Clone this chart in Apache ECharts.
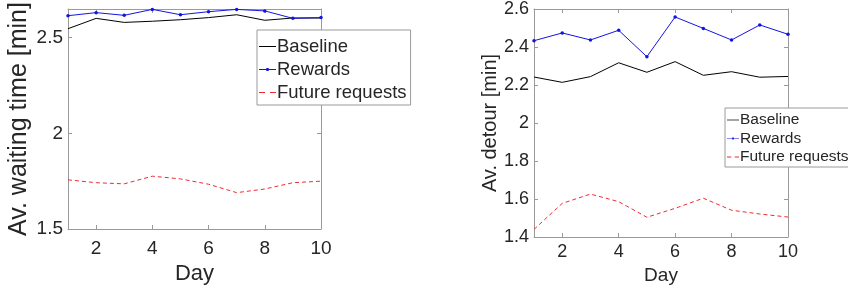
<!DOCTYPE html>
<html>
<head>
<meta charset="utf-8">
<script src="https://cdn.jsdelivr.net/npm/echarts@6/dist/echarts.min.js"></script>
<style>
  html, body { margin: 0; padding: 0; background: #fff; }
  #chart { width: 848px; height: 291px; }
</style>
</head>
<body>
<div id="chart"></div>
<script>
// days on the x axis
const days = [1, 2, 3, 4, 5, 6, 7, 8, 9, 10];
const dayTicks = [2, 4, 6, 8, 10];

// left panel: average waiting time [min]
const waitBaseline = [2.547, 2.601, 2.580, 2.586, 2.594, 2.605, 2.620, 2.591, 2.603, 2.603];
const waitRewards = [2.615, 2.631, 2.617, 2.648, 2.620, 2.636, 2.648, 2.640, 2.601, 2.605];
const waitFuture = [1.757, 1.742, 1.736, 1.776, 1.762, 1.734, 1.690, 1.709, 1.742, 1.750];
const waitTicks = [1.5, 2, 2.5];

// right panel: average detour [min]
const detourBaseline = [2.242, 2.214, 2.244, 2.317, 2.267, 2.323, 2.251, 2.270, 2.241, 2.245];
const detourRewards = [2.433, 2.474, 2.437, 2.488, 2.349, 2.558, 2.498, 2.437, 2.516, 2.467];
const detourFuture = [1.440, 1.577, 1.626, 1.586, 1.504, 1.551, 1.604, 1.541, 1.521, 1.505];
const detourTicks = [1.4, 1.6, 1.8, 2, 2.2, 2.4, 2.6];

const names = ["Baseline", "Rewards", "Future requests"];

const FONT = "Liberation Sans, Helvetica, Arial, sans-serif";
const TEXT = "#262626";
const FRAME = "#9a9a9a";
const BLUE = "#1414e0";
const RED = "#ee2b35";

// legend icons drawn like the matlab ones: plain line, line with a dot, dashes
const ICON_LINE = "path://M0,1 h17 v1 h-17 z";
const ICON_DOT = "path://M0,1 h17 v1 h-17 z M7.3,0 h2.4 v3 h-2.4 z";
const ICON_DASH = "path://M1,1 h5 v1 h-5 z M10,1 h5 v1 h-5 z";

const pairs = (ys) => days.map((d, i) => [d, ys[i]]);

// bottom axis with labels
function mainX(gridIndex, fontSize, margin, nameSize, nameGap) {
    return {
        type: "value", gridIndex, min: 1, max: 10, position: "bottom",
        name: "Day", nameLocation: "middle", nameGap,
        nameTextStyle: { fontFamily: FONT, fontSize: nameSize, color: TEXT },
        axisLine: { show: true, onZero: false, lineStyle: { color: FRAME, width: 1 } },
        axisTick: { show: true, inside: true, length: 4, customValues: dayTicks, lineStyle: { color: FRAME } },
        axisLabel: { customValues: dayTicks, margin, fontFamily: FONT, fontSize, color: TEXT },
        splitLine: { show: false },
    };
}
// top mirror axis for the box
function boxX(gridIndex) {
    return {
        type: "value", gridIndex, min: 1, max: 10, position: "top",
        axisLine: { show: true, onZero: false, lineStyle: { color: FRAME, width: 1 } },
        axisTick: { show: true, inside: true, length: 4, customValues: dayTicks, lineStyle: { color: FRAME } },
        axisLabel: { show: false },
        splitLine: { show: false },
    };
}
function mainY(gridIndex, min, max, ticks, name, fontSize, nameSize, nameGap) {
    return {
        type: "value", gridIndex, min, max, position: "left",
        name, nameLocation: "middle", nameGap,
        nameTextStyle: { fontFamily: FONT, fontSize: nameSize, color: TEXT },
        axisLine: { show: true, onZero: false, lineStyle: { color: FRAME, width: 1 } },
        axisTick: { show: true, inside: true, length: 4, customValues: ticks, lineStyle: { color: FRAME } },
        axisLabel: { customValues: ticks, margin: 5, fontFamily: FONT, fontSize, color: TEXT },
        splitLine: { show: false },
    };
}
function boxY(gridIndex, min, max, ticks) {
    return {
        type: "value", gridIndex, min, max, position: "right",
        axisLine: { show: true, onZero: false, lineStyle: { color: FRAME, width: 1 } },
        axisTick: { show: true, inside: true, length: 4, customValues: ticks, lineStyle: { color: FRAME } },
        axisLabel: { show: false },
        splitLine: { show: false },
    };
}

function lines(axisIndex, base, rew, fut) {
    return [
        {
            name: names[0], type: "line", xAxisIndex: axisIndex * 2, yAxisIndex: axisIndex * 2,
            data: pairs(base), symbol: "none", color: "#000000",
            lineStyle: { color: "#000000", width: 1 },
        },
        {
            name: names[1], type: "line", xAxisIndex: axisIndex * 2, yAxisIndex: axisIndex * 2,
            data: pairs(rew), symbol: "circle", symbolSize: 3.5, color: BLUE,
            itemStyle: { color: BLUE },
            lineStyle: { color: BLUE, width: 1 },
        },
        {
            name: names[2], type: "line", xAxisIndex: axisIndex * 2, yAxisIndex: axisIndex * 2,
            data: pairs(fut), symbol: "none", color: RED,
            lineStyle: { color: RED, width: 1, type: [4, 3] },
        },
    ];
}

const legendData = [
    { name: names[0], icon: ICON_LINE, itemStyle: { color: "#000000" } },
    { name: names[1], icon: ICON_DOT, itemStyle: { color: BLUE } },
    { name: names[2], icon: ICON_DASH, itemStyle: { color: RED } },
];

const chart = echarts.init(document.getElementById("chart"), null, { renderer: "canvas" });
chart.setOption({
    animation: false,
    grid: [
        { left: 68, top: 9, width: 253, height: 220, containLabel: false },
        { left: 534, top: 9, width: 254, height: 228, containLabel: false },
    ],
    xAxis: [
        mainX(0, 19, 10, 22, 34), boxX(0),
        mainX(1, 18, 6, 19, 28), boxX(1),
    ],
    yAxis: [
        mainY(0, 1.5, 2.65, waitTicks, "Av. waiting time [min]", 19, 25, 36), boxY(0, 1.5, 2.65, waitTicks),
        mainY(1, 1.4, 2.6, detourTicks, "Av. detour [min]", 18, 20, 31), boxY(1, 1.4, 2.6, detourTicks),
    ],
    legend: [
        {
            data: legendData, orient: "vertical", left: 257, top: 30,
            itemWidth: 17, itemHeight: 8, itemGap: 4,
            padding: [7, 4, 3, 2], borderColor: FRAME, borderWidth: 1,
            backgroundColor: "#fff",
            textStyle: { fontFamily: FONT, fontSize: 18.5, lineHeight: 18, color: TEXT, padding: [0, 0, 0, -4] },
        },
        {
            data: legendData, orient: "vertical", left: 725, top: 108,
            itemWidth: 12, itemHeight: 8, itemGap: 2.5,
            padding: [4, 4, 2, 2], borderColor: FRAME, borderWidth: 1,
            backgroundColor: "#fff",
            textStyle: { fontFamily: FONT, fontSize: 15.5, lineHeight: 16, color: TEXT, padding: [0, 0, 0, -4] },
        },
    ],
    series: [
        ...lines(0, waitBaseline, waitRewards, waitFuture),
        ...lines(1, detourBaseline, detourRewards, detourFuture),
    ],
});
</script>
</body>
</html>
